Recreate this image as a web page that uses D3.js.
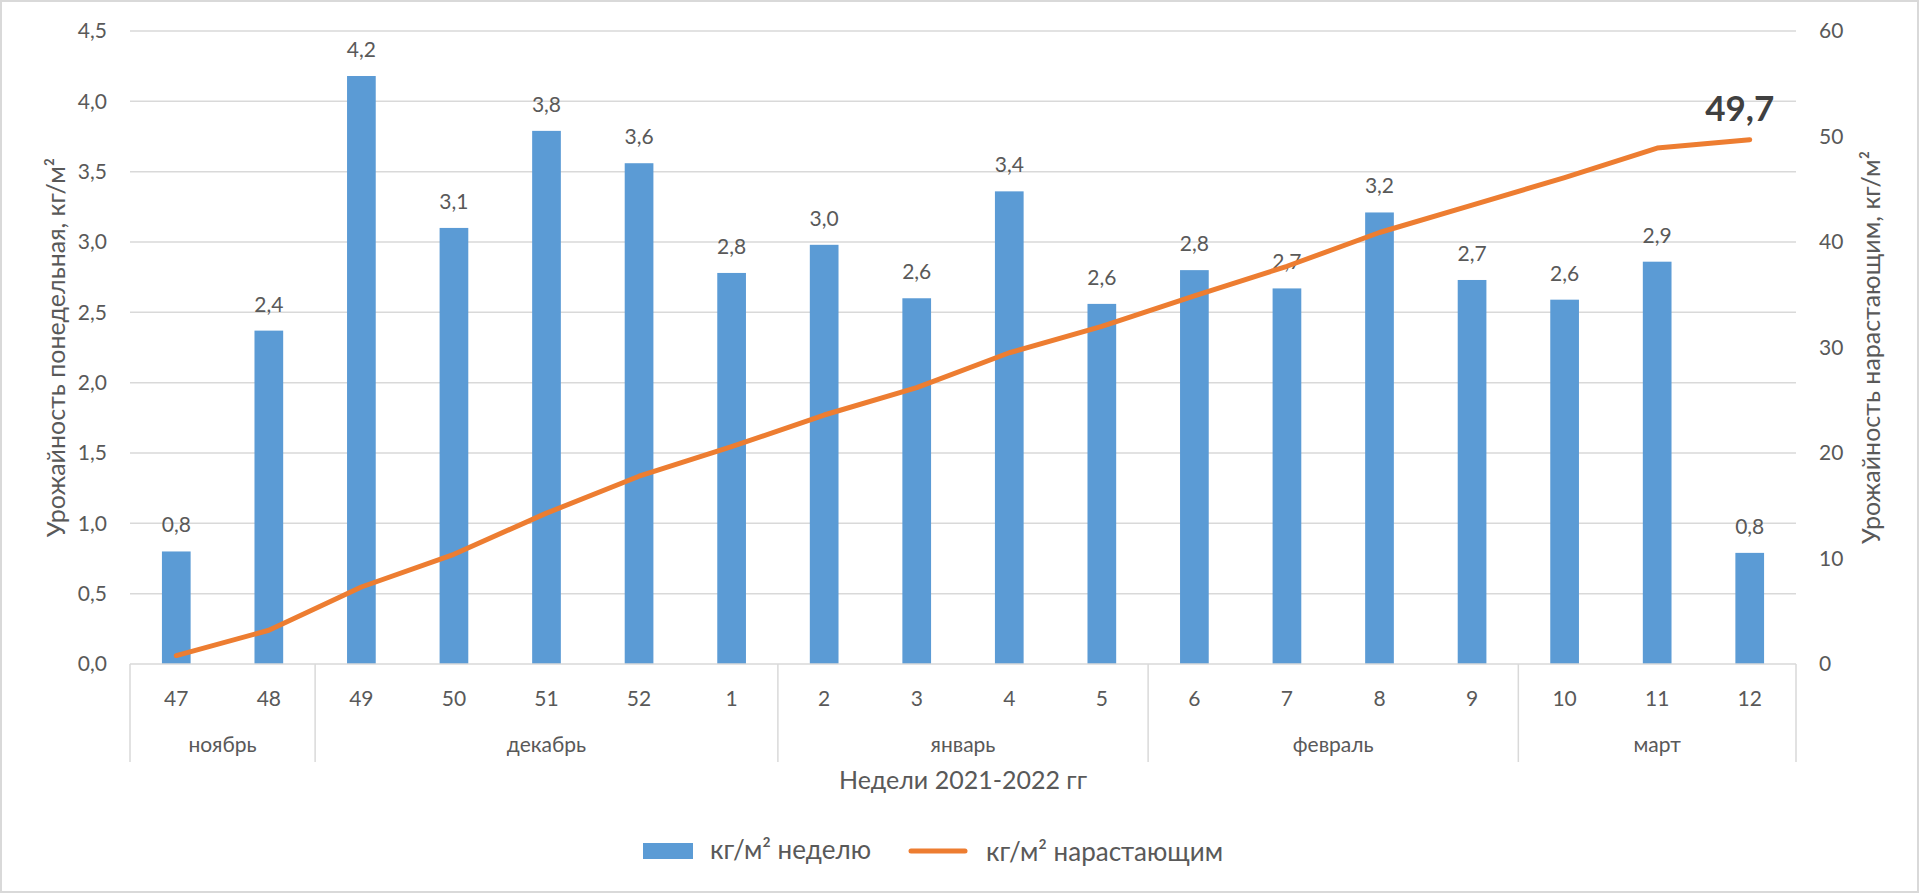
<!DOCTYPE html>
<html>
<head>
<meta charset="utf-8">
<script src="https://cdn.jsdelivr.net/npm/d3@7"></script>
<style>
  body { margin: 0; background: #fff; }
  text { font-family: Lato, "Open Sans", sans-serif; fill: #595959; }
</style>
</head>
<body>
<div id="vis"></div>
<script>
const W = 1920, H = 894;
const plot = { left: 130, right: 1796, top: 31, bottom: 664 };
const fs = '21px';
const titleFs = '25px';

const weeks = [47, 48, 49, 50, 51, 52, 1, 2, 3, 4, 5, 6, 7, 8, 9, 10, 11, 12];
const months = ['ноябрь', 'ноябрь', 'декабрь', 'декабрь', 'декабрь', 'декабрь', 'декабрь',
    'январь', 'январь', 'январь', 'январь', 'февраль', 'февраль', 'февраль', 'февраль',
    'март', 'март', 'март'];
const weekly = [0.8, 2.37, 4.18, 3.1, 3.79, 3.56, 2.78, 2.98, 2.6, 3.36, 2.56, 2.8, 2.67, 3.21, 2.73, 2.59, 2.86, 0.79];
const cumulative = [0.8, 3.2, 7.3, 10.4, 14.3, 17.8, 20.6, 23.6, 26.2, 29.5, 32.0, 34.9, 37.7, 40.9, 43.5, 46.1, 48.9, 49.7];
const leftTicks = [0, 0.5, 1, 1.5, 2, 2.5, 3, 3.5, 4, 4.5];
const rightTicks = [0, 10, 20, 30, 40, 50, 60];

const ru = d3.formatLocale({ decimal: ',', thousands: ' ', grouping: [3], currency: ['', ''] });
const f1 = ru.format('.1f');

const svg = d3.select('#vis').append('svg')
    .attr('width', W)
    .attr('height', H);

// chart border
svg.append('rect')
    .attr('x', 1).attr('y', 1)
    .attr('width', W - 3).attr('height', H - 3)
    .attr('fill', '#fff')
    .attr('stroke', '#d9d9d9')
    .attr('stroke-width', 2);

const x = d3.scaleBand()
    .domain(d3.range(weeks.length))
    .range([plot.left, plot.right])
    .paddingInner(0.69)
    .paddingOuter(0.345);
const step = x.step();
const cx = i => x(i) + x.bandwidth() / 2;

const yL = d3.scaleLinear().domain([0, 4.5]).range([plot.bottom, plot.top]);
const yR = d3.scaleLinear().domain([0, 60]).range([plot.bottom, plot.top]);

// gridlines
svg.append('g')
    .selectAll('line')
    .data(leftTicks.filter(d => d > 0))
    .enter()
    .append('line')
    .attr('x1', plot.left).attr('x2', plot.right)
    .attr('y1', d => yL(d)).attr('y2', d => yL(d))
    .attr('stroke', '#d9d9d9')
    .attr('stroke-width', 1.5);

// left axis
const gL = svg.append('g')
    .attr('transform', `translate(${plot.left},0)`)
    .call(d3.axisLeft(yL).tickValues(leftTicks).tickFormat(f1).tickSize(0).tickPadding(23));
gL.select('.domain').remove();
gL.selectAll('text').style('font-size', fs).attr('fill', '#595959');

// right axis
const gR = svg.append('g')
    .attr('transform', `translate(${plot.right},0)`)
    .call(d3.axisRight(yR).tickValues(rightTicks).tickSize(0).tickPadding(23));
gR.select('.domain').remove();
gR.selectAll('text').style('font-size', fs).attr('fill', '#595959');

// bars
svg.append('g')
    .selectAll('rect')
    .data(weekly)
    .enter()
    .append('rect')
    .attr('x', (d, i) => x(i))
    .attr('y', d => yL(d))
    .attr('width', x.bandwidth())
    .attr('height', d => yL(0) - yL(d))
    .attr('fill', '#5b9bd5');

// bar labels
svg.append('g')
    .selectAll('text')
    .data(weekly)
    .enter()
    .append('text')
    .attr('x', (d, i) => cx(i))
    .attr('y', d => yL(d) - 19)
    .attr('text-anchor', 'middle')
    .style('font-size', fs)
    .text(d => f1(d));

// category axis lines
svg.append('line')
    .attr('x1', plot.left).attr('x2', plot.right)
    .attr('y1', plot.bottom).attr('y2', plot.bottom)
    .attr('stroke', '#d9d9d9').attr('stroke-width', 1.5);

const groups = [];
months.forEach((m, i) => {
    const last = groups[groups.length - 1];
    if (last && last.name === m) last.end = i;
    else groups.push({ name: m, start: i, end: i });
});
const seps = [0].concat(groups.map(g => g.end + 1));
svg.append('g')
    .selectAll('line')
    .data(seps)
    .enter()
    .append('line')
    .attr('x1', d => plot.left + d * step)
    .attr('x2', d => plot.left + d * step)
    .attr('y1', plot.bottom).attr('y2', 762)
    .attr('stroke', '#d9d9d9').attr('stroke-width', 1.5);

// week labels
svg.append('g')
    .selectAll('text')
    .data(weeks)
    .enter()
    .append('text')
    .attr('x', (d, i) => cx(i))
    .attr('y', 706)
    .attr('text-anchor', 'middle')
    .style('font-size', fs)
    .text(d => d);

// month labels
svg.append('g')
    .selectAll('text')
    .data(groups)
    .enter()
    .append('text')
    .attr('x', d => plot.left + (d.start + d.end + 1) / 2 * step)
    .attr('y', 752)
    .attr('text-anchor', 'middle')
    .style('font-size', fs)
    .text(d => d.name);

// cumulative line
const line = d3.line()
    .x((d, i) => cx(i))
    .y(d => yR(d));
svg.append('path')
    .datum(cumulative)
    .attr('d', line)
    .attr('fill', 'none')
    .attr('stroke', '#ed7d31')
    .attr('stroke-width', 5)
    .attr('stroke-linejoin', 'round')
    .attr('stroke-linecap', 'round');

// final value label
const lastI = cumulative.length - 1;
svg.append('text')
    .attr('x', cx(lastI) - 10)
    .attr('y', yR(cumulative[lastI]) - 19)
    .attr('text-anchor', 'middle')
    .style('font-size', '35px')
    .style('font-weight', 'bold')
    .style('fill', '#404040')
    .text(f1(cumulative[lastI]));

// axis titles
svg.append('text')
    .attr('transform', `translate(55,${(plot.top + plot.bottom) / 2}) rotate(-90)`)
    .attr('text-anchor', 'middle')
    .attr('dominant-baseline', 'central')
    .style('font-size', titleFs)
    .text('Урожайность понедельная, кг/м²');

svg.append('text')
    .attr('transform', `translate(1870,${(plot.top + plot.bottom) / 2}) rotate(-90)`)
    .attr('text-anchor', 'middle')
    .attr('dominant-baseline', 'central')
    .style('font-size', titleFs)
    .text('Урожайность нарастающим, кг/м²');

svg.append('text')
    .attr('x', (plot.left + plot.right) / 2)
    .attr('y', 789)
    .attr('text-anchor', 'middle')
    .style('font-size', titleFs)
    .text('Недели 2021-2022 гг');

// legend
const legend = svg.append('g').attr('transform', 'translate(0,851)');
legend.append('rect')
    .attr('x', 643).attr('y', -8)
    .attr('width', 50).attr('height', 16)
    .attr('fill', '#5b9bd5');
legend.append('text')
    .attr('x', 710).attr('y', 8)
    .style('font-size', '26px')
    .text('кг/м² неделю');
legend.append('line')
    .attr('x1', 911).attr('x2', 965)
    .attr('y1', 0).attr('y2', 0)
    .attr('stroke', '#ed7d31')
    .attr('stroke-width', 5)
    .attr('stroke-linecap', 'round');
legend.append('text')
    .attr('x', 986).attr('y', 10)
    .style('font-size', '26px')
    .text('кг/м² нарастающим');
</script>
</body>
</html>
